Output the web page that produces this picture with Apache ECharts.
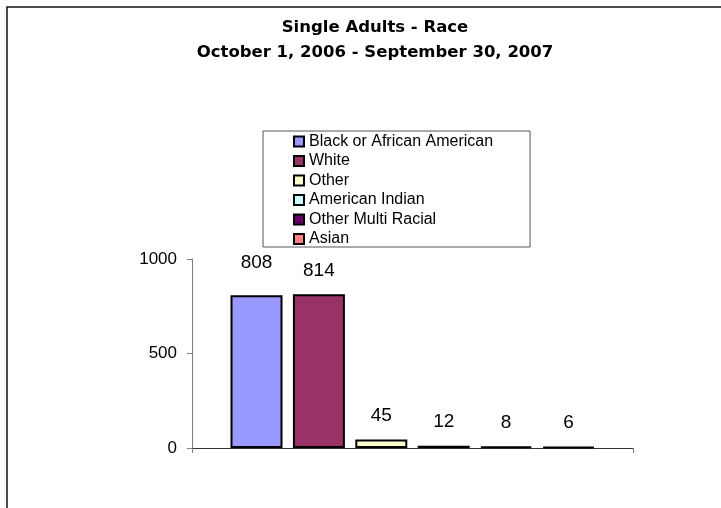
<!DOCTYPE html>
<html>
<head>
<meta charset="utf-8">
<script src="https://cdn.jsdelivr.net/npm/echarts@6/dist/echarts.min.js"></script>
<style>
  html, body { margin: 0; padding: 0; background: #fff; }
  #chart { width: 721px; height: 508px; }
</style>
</head>
<body>
<div id="chart"></div>
<script>
// ---- data ----
const categories = [''];
const seriesNames = ['Black or African American', 'White', 'Other', 'American Indian', 'Other Multi Racial', 'Asian'];
const seriesValues = [808, 814, 45, 12, 8, 6];
const seriesColors = ['#9999FF', '#993366', '#FFFFCC', '#CCFFFF', '#660066', '#FF8080'];
const yMin = 0, yMax = 1000, yInterval = 500;
const titleLines = ['Single Adults - Race', 'October 1, 2006 - September 30, 2007'];

// ---- chart ----
const chart = echarts.init(document.getElementById('chart'), null, { renderer: 'canvas' });

const series = seriesNames.map((name, i) => ({
  name: name,
  type: 'bar',
  data: [seriesValues[i]],
  barWidth: 52,
  barGap: '20%',
  itemStyle: { color: seriesColors[i], borderColor: '#000', borderWidth: 2 },
  label: {
    show: true,
    position: 'top',
    distance: 14,
    offset: i === 0 ? [0, -9] : [0, 0],
    color: '#000',
    fontFamily: 'Liberation Sans',
    fontSize: 19
  }
}));

const option = {
  animation: false,
  backgroundColor: '#fff',
  graphic: [
    { type: 'rect', z: -10, shape: { x: 7, y: 7, width: 760, height: 560 },
      style: { fill: 'none', stroke: '#111', lineWidth: 1.5 } },
    { type: 'text', x: 375, y: 28, style: { text: titleLines[0], align: 'center', verticalAlign: 'middle',
      font: 'bold 16.5px "DejaVu Sans"', fill: '#000' } },
    { type: 'text', x: 375, y: 53, style: { text: titleLines[1], align: 'center', verticalAlign: 'middle',
      font: 'bold 16.5px "DejaVu Sans"', fill: '#000' } }
  ],
  legend: {
    orient: 'vertical',
    left: 263,
    top: 131,
    padding: [2.5, 37, 0, 30],
    itemGap: 3.5,
    itemWidth: 10,
    itemHeight: 10,
    icon: 'rect',
    borderColor: '#555',
    borderWidth: 1,
    textStyle: { fontFamily: 'Liberation Sans', fontSize: 16, lineHeight: 16, color: '#000' },
    data: seriesNames
  },
  grid: { left: 192, right: 88, top: 259, bottom: 60, containLabel: false },
  xAxis: {
    type: 'category',
    data: categories,
    axisLine: { lineStyle: { color: '#333', width: 1 } },
    axisTick: { show: true, length: 5, lineStyle: { color: '#808080' } },
    axisLabel: { show: false },
    splitLine: { show: false }
  },
  yAxis: {
    type: 'value',
    min: yMin,
    max: yMax,
    interval: yInterval,
    axisLine: { show: true, lineStyle: { color: '#808080', width: 1 } },
    axisTick: { show: true, length: 5, lineStyle: { color: '#808080' } },
    axisLabel: { margin: 15, color: '#000', fontFamily: 'Liberation Sans', fontSize: 17,
      formatter: (v) => String(v) },
    splitLine: { show: false }
  },
  series: series
};

chart.setOption(option);
</script>
</body>
</html>
